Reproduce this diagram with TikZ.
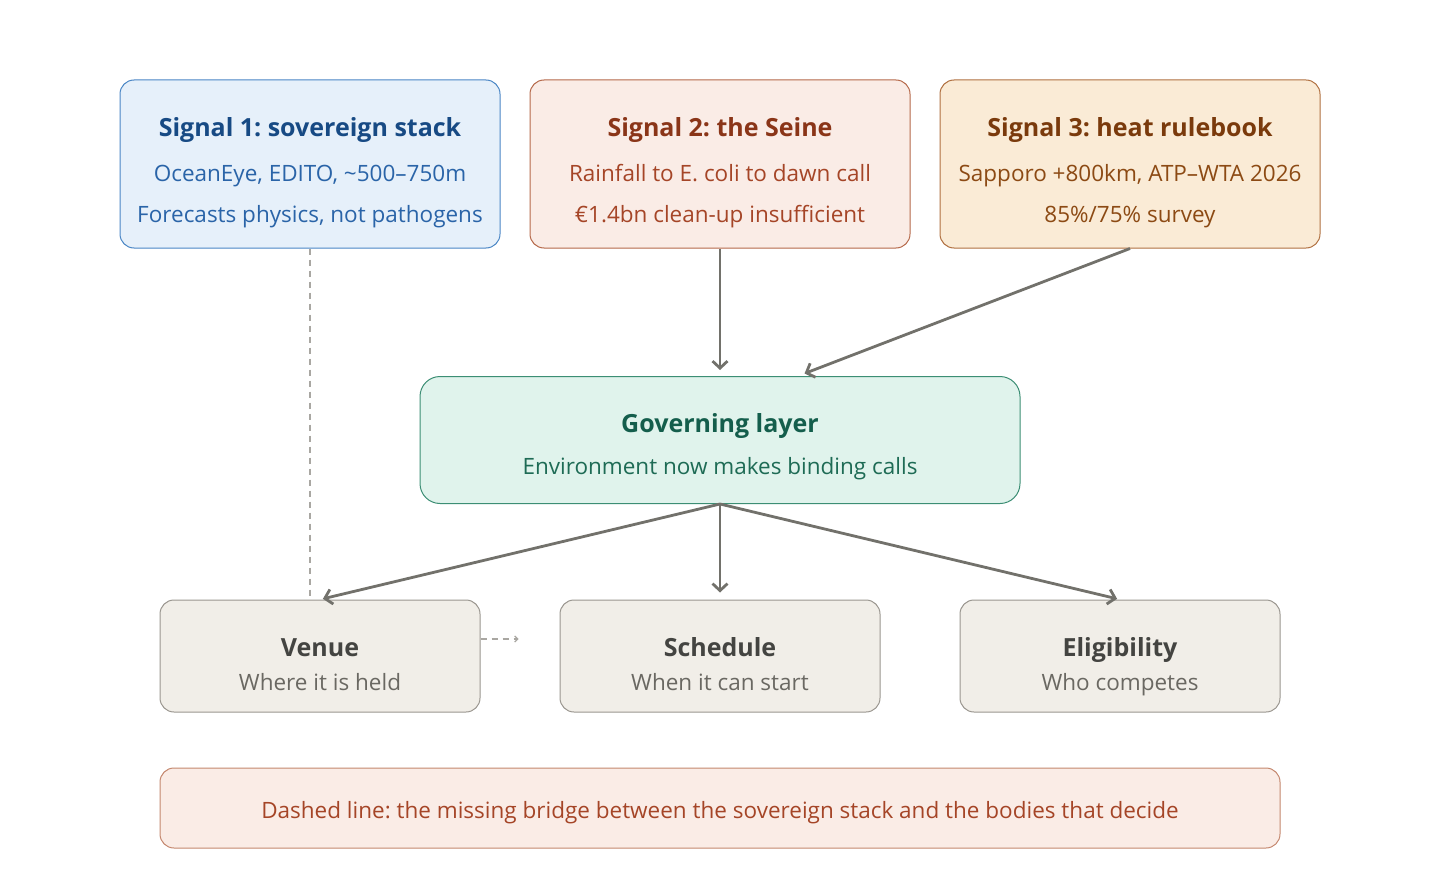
\documentclass[tikz,border=0pt]{standalone}
\usepackage{fontspec}
\setmainfont{Open Sans}
\usetikzlibrary{arrows.meta}
\frenchspacing

\definecolor{blueFill}{HTML}{E6F0FA}
\definecolor{blueLine}{HTML}{4A86C5}
\definecolor{blueHead}{HTML}{174A84}
\definecolor{blueText}{HTML}{2A64A8}
\definecolor{redFill}{HTML}{FAECE6}
\definecolor{redLine}{HTML}{B5694A}
\definecolor{redHead}{HTML}{8A3518}
\definecolor{redText}{HTML}{A54527}
\definecolor{sandFill}{HTML}{FAEBD6}
\definecolor{sandLine}{HTML}{B07040}
\definecolor{sandHead}{HTML}{7A3A0C}
\definecolor{sandText}{HTML}{8C4A14}
\definecolor{greenFill}{HTML}{E0F3EC}
\definecolor{greenLine}{HTML}{3C8E74}
\definecolor{greenHead}{HTML}{145E4C}
\definecolor{greenText}{HTML}{1E6B55}
\definecolor{greyFill}{HTML}{F1EEE8}
\definecolor{greyLine}{HTML}{9A968F}
\definecolor{greyHead}{HTML}{444441}
\definecolor{greyText}{HTML}{6A6862}
\definecolor{arrowGrey}{HTML}{72716B}
\definecolor{dashGrey}{HTML}{A9A7A2}

\tikzset{
    box/.style={shape=rectangle, rounded corners=14pt, line width=1pt, inner sep=0pt},
    head/.style={anchor=base, inner sep=0pt, font=\fontsize{25}{30}\selectfont\bfseries},
    sub/.style={anchor=base, inner sep=0pt, font=\fontsize{22.5}{26}\selectfont},
    flow/.style={draw=arrowGrey, line width=2.8pt, -{Straight Barb[length=7pt,width=15pt,line width=2.8pt]}},
    gap/.style={draw=dashGrey, line width=1.5pt, dash pattern=on 6pt off 5pt}
}

\begin{document}
\begin{tikzpicture}[x=1pt,y=-1pt]
        \useasboundingbox (0,0) rectangle (1440,880);

        % signal boxes
        \node[box,fill=blueFill,draw=blueLine,minimum width=380pt,minimum height=168pt] (S1) at (310,164) {};
        \node[box,fill=redFill,draw=redLine,minimum width=380pt,minimum height=168pt] (S2) at (720,164) {};
        \node[box,fill=sandFill,draw=sandLine,minimum width=380pt,minimum height=168pt] (S3) at (1130,164) {};

        \node[head,text=blueHead] (S1h) at (310,136) {Signal 1: sovereign stack};
        \node[sub,text=blueText] (S1a) at (310,182) {OceanEye, EDITO, \textasciitilde500–750m};
        \node[sub,text=blueText] (S1b) at (310,222) {Forecasts physics, not pathogens};

        \node[head,text=redHead] (S2h) at (720,136) {Signal 2: the Seine};
        \node[sub,text=redText] (S2a) at (720,182) {Rainfall to E. coli to dawn call};
        \node[sub,text=redText] (S2b) at (720,222) {€1.4bn clean-up insufficient};

        \node[head,text=sandHead] (S3h) at (1130,136) {Signal 3: heat rulebook};
        \node[sub,text=sandText] (S3a) at (1130,182) {Sapporo +800km, ATP–WTA 2026};
        \node[sub,text=sandText] (S3b) at (1130,222) {85\%/75\% survey};

        % governing layer
        \node[box,rounded corners=20pt,fill=greenFill,draw=greenLine,minimum width=600pt,minimum height=127pt] (G) at (720,440) {};
        \node[head,text=greenHead] (Gh) at (720,432) {Governing layer};
        \node[sub,text=greenText] (Ga) at (720,474) {Environment now makes binding calls};

        % decisions
        \node[box,fill=greyFill,draw=greyLine,minimum width=320pt,minimum height=112pt] (V) at (320,656) {};
        \node[box,fill=greyFill,draw=greyLine,minimum width=320pt,minimum height=112pt] (Sc) at (720,656) {};
        \node[box,fill=greyFill,draw=greyLine,minimum width=320pt,minimum height=112pt] (E) at (1120,656) {};

        \node[head,text=greyHead] (Vh) at (320,656) {Venue};
        \node[sub,text=greyText] (Va) at (320,690) {Where it is held};
        \node[head,text=greyHead] (Sch) at (720,656) {Schedule};
        \node[sub,text=greyText] (Sca) at (720,690) {When it can start};
        \node[head,text=greyHead] (Eh) at (1120,656) {Eligibility};
        \node[sub,text=greyText] (Ea) at (1120,690) {Who competes};

        % note
        \node[box,fill=redFill,draw=redLine!80,minimum width=1120pt,minimum height=80pt] (N) at (720,808) {};
        \node[sub,text=redText] (Na) at (720,818) {Dashed line: the missing bridge between the sovereign stack and the bodies that decide};

        % connectors
        \coordinate (Gin) at ([xshift=78pt]G.north);
        \coordinate (Vout) at ([xshift=38pt,yshift=17pt]V.east);

        \draw[flow,shorten >=6pt] (S2.south) -- (G.north);
        \draw[flow,shorten >=7pt] (S3.south) -- (Gin);
        \draw[flow,shorten >=3pt] (G.south) -- (V.north);
        \draw[flow,shorten >=7pt] (G.south) -- (Sc.north);
        \draw[flow,shorten >=3pt] (G.south) -- (E.north);

        \draw[gap] (S1.south) -- (S1.south |- V.north);
        \draw[gap,line width=1.2pt,-{Straight Barb[length=3pt,width=6pt,line width=1.2pt]}] (V.east |- Vout) -- (Vout);
    \end{tikzpicture}
\end{document}
